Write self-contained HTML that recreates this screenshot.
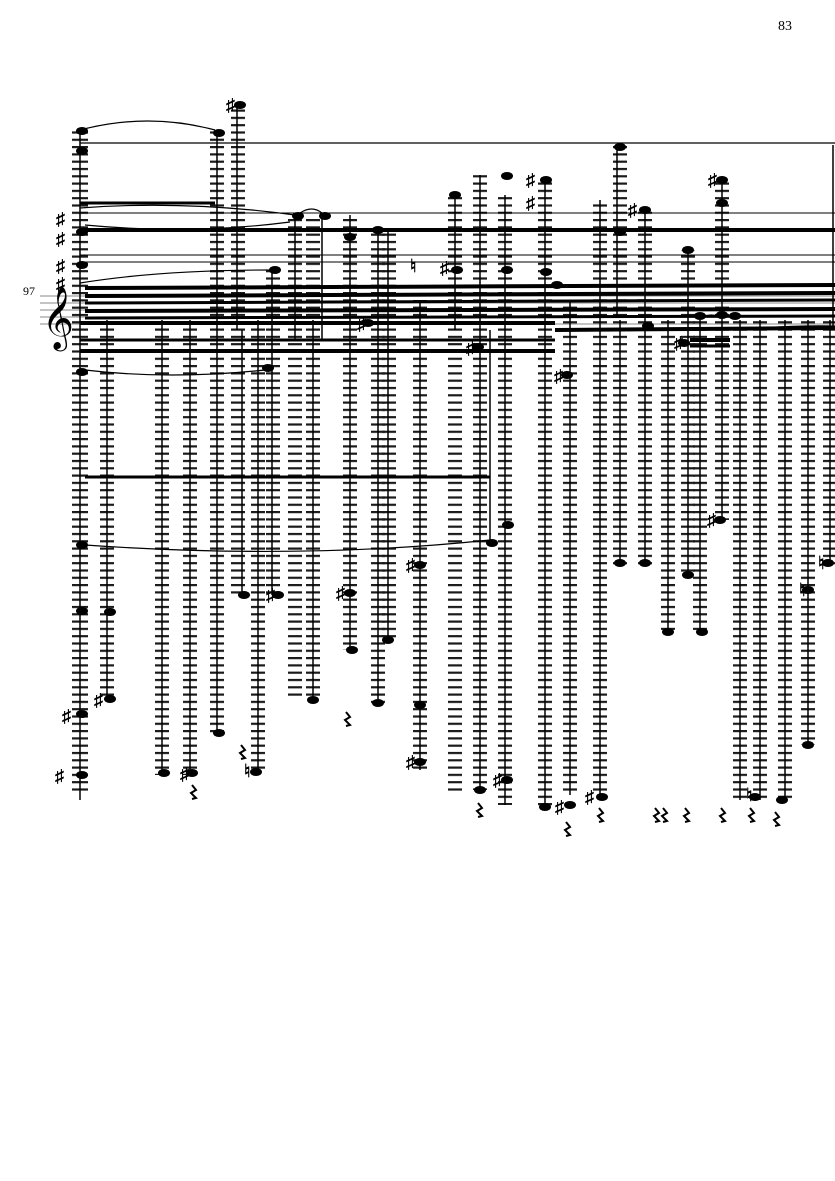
<!DOCTYPE html>
<html><head><meta charset="utf-8"><style>
html,body{margin:0;padding:0;background:#fff;width:835px;height:1181px;overflow:hidden}
svg{display:block}
text{font-family:"Liberation Serif",serif;fill:#000}
</style></head><body>
<svg width="835" height="1181" viewBox="0 0 835 1181" xmlns="http://www.w3.org/2000/svg">
<defs>
<pattern id="led" x="0" y="0" width="2" height="7.3" patternUnits="userSpaceOnUse">
<rect x="0" y="0" width="2" height="2.2" fill="#1a1a1a"/>
</pattern>
<path id="rest" d="M0 0 L4 5 L-1 8 L4 13 L0 14" fill="none" stroke="#000" stroke-width="2"/>
</defs>
<text x="778" y="30" font-size="14">83</text>
<text x="23" y="295" font-size="12">97</text>
<g stroke="#888" stroke-width="1">
<line x1="40" y1="296" x2="835" y2="296"/><line x1="40" y1="303" x2="835" y2="303"/>
<line x1="40" y1="310" x2="835" y2="310"/><line x1="40" y1="317" x2="835" y2="317"/>
<line x1="40" y1="324" x2="835" y2="324"/>
</g>
<text x="42" y="336" font-size="54" font-family="DejaVu Sans">𝄞</text>
<g fill="url(#led)">
<rect x="72" y="130" width="16" height="665"/>
<rect x="100" y="320" width="14" height="380"/>
<rect x="155" y="320" width="14" height="455"/>
<rect x="183" y="320" width="14" height="455"/>
<rect x="210" y="130" width="14" height="605"/>
<rect x="231" y="105" width="14" height="490"/>
<rect x="251" y="320" width="14" height="452"/>
<rect x="266" y="270" width="14" height="325"/>
<rect x="288" y="215" width="14" height="485"/>
<rect x="306" y="215" width="14" height="485"/>
<rect x="343" y="215" width="14" height="435"/>
<rect x="371" y="230" width="14" height="475"/>
<rect x="382" y="230" width="14" height="410"/>
<rect x="413" y="300" width="14" height="470"/>
<rect x="448" y="195" width="14" height="600"/>
<rect x="473" y="175" width="14" height="615"/>
<rect x="498" y="195" width="14" height="610"/>
<rect x="538" y="180" width="14" height="628"/>
<rect x="563" y="300" width="14" height="495"/>
<rect x="593" y="200" width="14" height="595"/>
<rect x="613" y="145" width="14" height="420"/>
<rect x="638" y="210" width="14" height="355"/>
<rect x="661" y="320" width="14" height="310"/>
<rect x="681" y="250" width="14" height="325"/>
<rect x="693" y="320" width="14" height="310"/>
<rect x="715" y="180" width="14" height="340"/>
<rect x="733" y="320" width="14" height="480"/>
<rect x="753" y="320" width="14" height="480"/>
<rect x="778" y="320" width="14" height="480"/>
<rect x="801" y="320" width="14" height="425"/>
<rect x="823" y="320" width="14" height="245"/>
</g>
<g stroke="#000" stroke-width="1.5">
<line x1="80" y1="130" x2="80" y2="800"/><line x1="107" y1="320" x2="107" y2="700"/>
<line x1="162" y1="320" x2="162" y2="775"/><line x1="190" y1="320" x2="190" y2="775"/>
<line x1="217" y1="130" x2="217" y2="735"/><line x1="237" y1="105" x2="237" y2="330"/>
<line x1="242" y1="330" x2="242" y2="595"/><line x1="258" y1="320" x2="258" y2="772"/>
<line x1="272" y1="270" x2="272" y2="595"/><line x1="295" y1="215" x2="295" y2="340"/>
<line x1="313" y1="320" x2="313" y2="700"/><line x1="322" y1="215" x2="322" y2="340"/>
<line x1="350" y1="215" x2="350" y2="650"/><line x1="378" y1="230" x2="378" y2="705"/>
<line x1="388" y1="230" x2="388" y2="640"/><line x1="420" y1="300" x2="420" y2="770"/>
<line x1="455" y1="195" x2="455" y2="330"/><line x1="480" y1="175" x2="480" y2="790"/>
<line x1="505" y1="195" x2="505" y2="805"/><line x1="490" y1="330" x2="490" y2="545"/>
<line x1="545" y1="180" x2="545" y2="808"/><line x1="570" y1="300" x2="570" y2="795"/>
<line x1="600" y1="200" x2="600" y2="795"/><line x1="617" y1="145" x2="617" y2="315"/>
<line x1="620" y1="320" x2="620" y2="565"/><line x1="645" y1="210" x2="645" y2="565"/>
<line x1="668" y1="320" x2="668" y2="630"/><line x1="688" y1="250" x2="688" y2="575"/>
<line x1="700" y1="320" x2="700" y2="630"/><line x1="722" y1="180" x2="722" y2="520"/>
<line x1="740" y1="320" x2="740" y2="800"/><line x1="760" y1="320" x2="760" y2="800"/>
<line x1="785" y1="320" x2="785" y2="800"/><line x1="808" y1="320" x2="808" y2="745"/>
<line x1="830" y1="320" x2="830" y2="565"/><line x1="833" y1="145" x2="833" y2="330"/>
</g>
<g stroke="#000">
<line x1="80" y1="143" x2="835" y2="143" stroke-width="1.2"/>
<line x1="80" y1="203" x2="215" y2="203" stroke-width="3"/>
<line x1="80" y1="213" x2="835" y2="213" stroke-width="1"/>
<line x1="80" y1="230" x2="835" y2="230" stroke-width="4"/>
<line x1="80" y1="255" x2="835" y2="255" stroke-width="1"/>
<line x1="80" y1="262" x2="835" y2="262" stroke-width="1"/>
<line x1="85" y1="288" x2="835" y2="285" stroke-width="4"/>
<line x1="85" y1="296" x2="835" y2="293" stroke-width="4"/>
<line x1="85" y1="303" x2="835" y2="300" stroke-width="3"/>
<line x1="85" y1="311" x2="835" y2="309" stroke-width="4"/>
<line x1="85" y1="318" x2="835" y2="316" stroke-width="3"/>
<line x1="80" y1="323" x2="555" y2="323" stroke-width="4"/>
<line x1="80" y1="340" x2="555" y2="340" stroke-width="3"/>
<line x1="80" y1="351" x2="555" y2="351" stroke-width="4"/>
<line x1="555" y1="330" x2="835" y2="328" stroke-width="4"/>
<line x1="690" y1="340" x2="730" y2="340" stroke-width="4"/>
<line x1="690" y1="346" x2="730" y2="346" stroke-width="3"/>
<line x1="85" y1="477" x2="490" y2="477" stroke-width="3"/>
</g>
<g fill="none" stroke="#000" stroke-width="1.2">
<path d="M80 130 Q148 112 215 130"/>
<path d="M80 208 Q185 200 295 215"/>
<path d="M85 225 Q190 235 290 222"/>
<path d="M80 283 Q160 270 272 270"/>
<path d="M85 370 Q170 380 265 370"/>
<path d="M85 545 Q300 560 490 540"/>
<path d="M300 213 Q312 205 322 213"/>
<path d="M700 318 Q712 312 722 318"/>
<path d="M735 330 Q790 325 835 326"/>
</g>
<g fill="#000">
<ellipse cx="82" cy="131" rx="6" ry="4"/><ellipse cx="82" cy="151" rx="6" ry="4"/>
<ellipse cx="82" cy="232" rx="6" ry="4"/><ellipse cx="82" cy="265" rx="6" ry="4"/>
<ellipse cx="82" cy="372" rx="6" ry="4"/><ellipse cx="82" cy="545" rx="6" ry="4"/>
<ellipse cx="82" cy="611" rx="6" ry="4"/><ellipse cx="82" cy="714" rx="6" ry="4"/>
<ellipse cx="82" cy="775" rx="6" ry="4"/>
<ellipse cx="110" cy="612" rx="6" ry="4"/><ellipse cx="110" cy="699" rx="6" ry="4"/>
<ellipse cx="164" cy="773" rx="6" ry="4"/><ellipse cx="192" cy="773" rx="6" ry="4"/>
<ellipse cx="219" cy="133" rx="6" ry="4"/><ellipse cx="219" cy="733" rx="6" ry="4"/>
<ellipse cx="240" cy="105" rx="6" ry="4"/><ellipse cx="244" cy="595" rx="6" ry="4"/>
<ellipse cx="256" cy="772" rx="6" ry="4"/><ellipse cx="275" cy="270" rx="6" ry="4"/>
<ellipse cx="268" cy="368" rx="6" ry="4"/><ellipse cx="278" cy="595" rx="6" ry="4"/>
<ellipse cx="298" cy="216" rx="6" ry="4"/><ellipse cx="325" cy="216" rx="6" ry="4"/>
<ellipse cx="313" cy="700" rx="6" ry="4"/><ellipse cx="350" cy="237" rx="6" ry="4"/>
<ellipse cx="350" cy="593" rx="6" ry="4"/><ellipse cx="352" cy="650" rx="6" ry="4"/>
<ellipse cx="368" cy="323" rx="6" ry="4"/><ellipse cx="378" cy="230" rx="6" ry="4"/>
<ellipse cx="378" cy="703" rx="6" ry="4"/><ellipse cx="388" cy="640" rx="6" ry="4"/>
<ellipse cx="420" cy="565" rx="6" ry="4"/><ellipse cx="420" cy="705" rx="6" ry="4"/>
<ellipse cx="420" cy="762" rx="6" ry="4"/><ellipse cx="455" cy="195" rx="6" ry="4"/>
<ellipse cx="457" cy="270" rx="6" ry="4"/><ellipse cx="478" cy="347" rx="6" ry="4"/>
<ellipse cx="480" cy="790" rx="6" ry="4"/><ellipse cx="507" cy="176" rx="6" ry="4"/>
<ellipse cx="507" cy="270" rx="6" ry="4"/><ellipse cx="492" cy="543" rx="6" ry="4"/>
<ellipse cx="508" cy="525" rx="6" ry="4"/><ellipse cx="507" cy="780" rx="6" ry="4"/>
<ellipse cx="546" cy="180" rx="6" ry="4"/><ellipse cx="546" cy="272" rx="6" ry="4"/>
<ellipse cx="545" cy="807" rx="6" ry="4"/><ellipse cx="557" cy="285" rx="6" ry="4"/>
<ellipse cx="567" cy="375" rx="6" ry="4"/><ellipse cx="570" cy="805" rx="6" ry="4"/>
<ellipse cx="602" cy="797" rx="6" ry="4"/><ellipse cx="620" cy="147" rx="6" ry="4"/>
<ellipse cx="620" cy="232" rx="6" ry="4"/><ellipse cx="620" cy="563" rx="6" ry="4"/>
<ellipse cx="645" cy="563" rx="6" ry="4"/><ellipse cx="645" cy="210" rx="6" ry="4"/>
<ellipse cx="648" cy="326" rx="6" ry="4"/><ellipse cx="668" cy="632" rx="6" ry="4"/>
<ellipse cx="688" cy="250" rx="6" ry="4"/><ellipse cx="688" cy="575" rx="6" ry="4"/>
<ellipse cx="702" cy="632" rx="6" ry="4"/><ellipse cx="700" cy="316" rx="6" ry="4"/>
<ellipse cx="684" cy="343" rx="6" ry="4"/><ellipse cx="722" cy="180" rx="6" ry="4"/>
<ellipse cx="722" cy="203" rx="6" ry="4"/><ellipse cx="722" cy="315" rx="6" ry="4"/>
<ellipse cx="735" cy="316" rx="6" ry="4"/><ellipse cx="720" cy="520" rx="6" ry="4"/>
<ellipse cx="755" cy="797" rx="6" ry="4"/><ellipse cx="782" cy="800" rx="6" ry="4"/>
<ellipse cx="808" cy="745" rx="6" ry="4"/><ellipse cx="808" cy="590" rx="6" ry="4"/>
<ellipse cx="828" cy="563" rx="6" ry="4"/>
</g>
<g font-family="DejaVu Sans" font-size="18" font-weight="bold">
<text x="226" y="111">♯</text><text x="56" y="245">♯</text><text x="56" y="272">♯</text>
<text x="56" y="225">♯</text><text x="56" y="290">♯</text>
<text x="55" y="782">♯</text><text x="62" y="722">♯</text><text x="94" y="706">♯</text>
<text x="180" y="780">♯</text><text x="266" y="601">♯</text><text x="336" y="599">♯</text>
<text x="406" y="571">♯</text><text x="406" y="768">♯</text><text x="357" y="330">♯</text>
<text x="466" y="354">♯</text><text x="493" y="786">♯</text><text x="554" y="382">♯</text>
<text x="555" y="813">♯</text><text x="585" y="803">♯</text><text x="526" y="186">♯</text>
<text x="526" y="209">♯</text><text x="628" y="216">♯</text><text x="708" y="186">♯</text>
<text x="707" y="526">♯</text><text x="674" y="349">♯</text><text x="440" y="274">♯</text>
<text x="410" y="272">♮</text><text x="244" y="777">♮</text>
<text x="746" y="801">♮</text><text x="799" y="596">♮</text><text x="818" y="569">♮</text>
</g>
<g>
<use href="#rest" x="192" y="785"/><use href="#rest" x="346" y="712"/><use href="#rest" x="478" y="803"/>
<use href="#rest" x="566" y="822"/><use href="#rest" x="599" y="808"/><use href="#rest" x="655" y="808"/>
<use href="#rest" x="663" y="808"/><use href="#rest" x="685" y="808"/><use href="#rest" x="721" y="808"/>
<use href="#rest" x="750" y="808"/><use href="#rest" x="775" y="812"/><use href="#rest" x="241" y="745"/>
</g>
</svg>
</body></html>
